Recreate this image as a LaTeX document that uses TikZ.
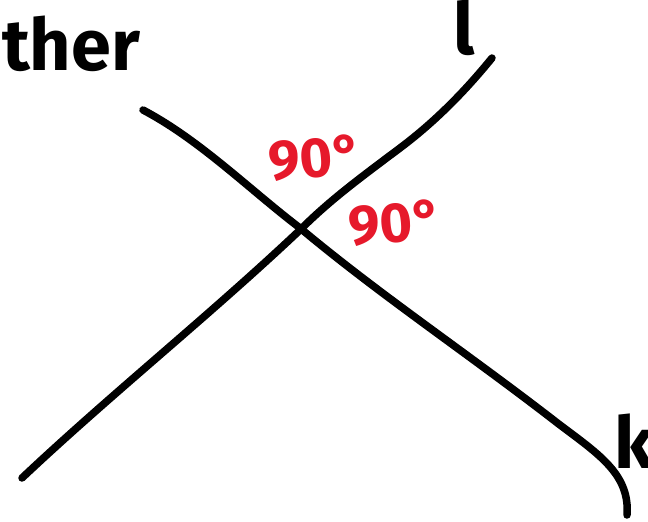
\documentclass[tikz,border=0pt]{standalone}
\usepackage{fontspec}
\setmainfont{Fira Sans}
\definecolor{anglered}{HTML}{E6192B}
\begin{document}
\begin{tikzpicture}[x=1pt,y=-1pt,
  stroke/.style={line width=7.5pt,line cap=round,line join=round,black},
  hand/.style={font=\fontsize{72}{72}\selectfont\bfseries,inner sep=0pt,text=black},
  angletext/.style={font=\fontsize{56}{56}\selectfont\bfseries,inner sep=0pt,text=anglered}]
\useasboundingbox (0,0) rectangle (648,522);
\clip (0,0) rectangle (648,522);
% line l
\coordinate (lA) at (22,478);
\coordinate (lB) at (492,58);
\draw[stroke] (lA) .. controls (110,395) and (210,315) .. (300,230)
  .. controls (330,200) and (360,178) .. (400,148)
  .. controls (440,118) and (470,85) .. (lB);
% line k
\coordinate (kA) at (143,110);
\coordinate (kB) at (627,515);
\draw[stroke] (kA) .. controls (200,140) and (250,190) .. (300,228)
  .. controls (380,295) and (470,355) .. (560,425)
  .. controls (600,455) and (630,475) .. (kB);
% texts
\node[hand,anchor=base west] (ther) at (2,70) {ther};
\node[hand,anchor=base] (l) at (464,54) {l};
\node[hand,anchor=base west] (k) at (614,468) {k};
\node[angletext,rotate=5,anchor=base west] (a1) at (270,181) {90°};
\node[angletext,rotate=5,anchor=base west] (a2) at (350,246) {90°};
\end{tikzpicture}
\end{document}
